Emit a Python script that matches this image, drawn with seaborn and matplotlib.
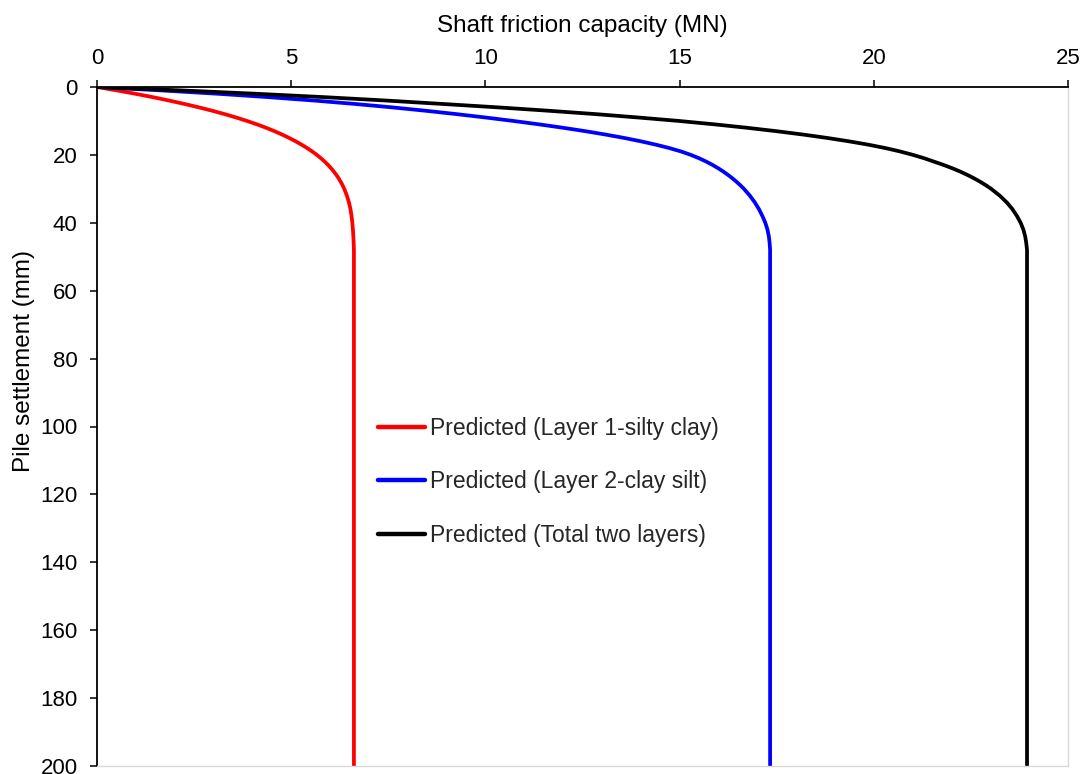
import matplotlib
matplotlib.use("Agg")
import matplotlib.pyplot as plt
import seaborn as sns
import pandas as pd

# Pile settlement (mm) at which shaft friction was evaluated
settlement = [0, 1, 2, 3, 4, 5, 6, 7, 8, 9, 10, 11, 12, 13, 14, 15, 16, 17,
              18, 19, 20, 21, 22, 23, 24, 25, 26, 27, 28, 29, 30,
              32, 34, 36, 38, 40, 42, 44, 46, 48, 200]

# Mobilised shaft friction (MN) for each layer and for the whole pile
layer1_silty_clay = [0, 0.51, 0.99, 1.44, 1.86, 2.255, 2.625, 2.97, 3.29,
                     3.587, 3.862, 4.117, 4.352, 4.567, 4.765, 4.947, 5.115,
                     5.27, 5.412, 5.542, 5.66, 5.767, 5.864, 5.952, 6.032,
                     6.104, 6.169, 6.227, 6.279, 6.325, 6.366,
                     6.434, 6.487, 6.526, 6.554, 6.574, 6.589, 6.60, 6.608,
                     6.615, 6.615]
layer2_clay_silt = [0, 1.65, 3.12, 4.43, 5.60, 6.65, 7.60, 8.465, 9.265,
                    10.015, 10.72, 11.38, 11.995, 12.565, 13.09, 13.57,
                    14.005, 14.395, 14.74, 15.04, 15.29, 15.504, 15.69,
                    15.855, 16.003, 16.137, 16.259, 16.371, 16.474, 16.569,
                    16.656,
                    16.809, 16.937, 17.044, 17.132, 17.207, 17.262, 17.298,
                    17.318, 17.33, 17.33]
total_two_layers = [0, 2.16, 4.11, 5.87, 7.46, 8.905, 10.325, 11.635, 12.855,
                    13.952, 14.982, 15.897, 16.727, 17.482, 18.175, 18.797,
                    19.36, 19.865, 20.302, 20.682, 21.01, 21.301, 21.554,
                    21.807, 22.035, 22.241, 22.428, 22.598, 22.753, 22.894,
                    23.022,
                    23.243, 23.424, 23.57, 23.686, 23.781, 23.851, 23.898,
                    23.926, 23.945, 23.945]

series_names = ["Predicted (Layer 1-silty clay)",
                "Predicted (Layer 2-clay silt)",
                "Predicted (Total two layers)"]
series_values = [layer1_silty_clay, layer2_clay_silt, total_two_layers]
series_colors = ["#ff0000", "#0000ff", "#000000"]

x_ticks = [0, 5, 10, 15, 20, 25]
y_ticks = [0, 20, 40, 60, 80, 100, 120, 140, 160, 180, 200]

sns.set_theme(style="white")
plt.rcParams["font.family"] = ["Liberation Sans", "DejaVu Sans"]

frames = []
for name, vals in zip(series_names, series_values):
    frames.append(pd.DataFrame({"settlement": settlement,
                                "capacity": vals,
                                "series": name}))
df = pd.concat(frames, ignore_index=True)

fig = plt.figure(figsize=(10.9, 7.74), dpi=100)
ax = fig.add_axes([97 / 1090, 1 - 766 / 774, (1068 - 97) / 1090, (766 - 87) / 774])

sns.lineplot(data=df, x="capacity", y="settlement", hue="series",
             hue_order=series_names, palette=series_colors, sort=False,
             estimator=None, linewidth=2.7, ax=ax)

ax.set_xlim(0, 25)
ax.set_ylim(200, 0)
ax.set_xticks(x_ticks)
ax.set_yticks(y_ticks)
ax.xaxis.tick_top()
ax.xaxis.set_label_position("top")

tick_fs = 16
legend_fs = 16.5
label_fs = 17.5
ax.tick_params(axis="x", which="both", top=True, bottom=False, direction="out",
               length=5, width=1.1, color="black", pad=8, labelsize=tick_fs,
               labelcolor="black")
ax.tick_params(axis="y", which="both", left=True, direction="out",
               length=5, width=1.1, color="black", pad=9, labelsize=tick_fs,
               labelcolor="black")

ax.set_xlabel("Shaft friction capacity (MN)", fontsize=label_fs, color="black")
ax.set_ylabel("Pile settlement (mm)", fontsize=label_fs, color="black")
ax.xaxis.set_label_coords(0.5, 1.0 + 55 / 679)
ax.yaxis.set_label_coords(-62 / 971, 0.596)

for side in ("top", "left"):
    ax.spines[side].set_color("black")
    ax.spines[side].set_linewidth(1.3)
for side in ("right", "bottom"):
    ax.spines[side].set_color("#d9d9d9")
    ax.spines[side].set_linewidth(1.0)

ax.grid(False)

leg = ax.legend(loc="upper left", bbox_to_anchor=((378 - 97) / 971, 1 - (417 - 87) / 679),
                frameon=False, fontsize=legend_fs, handlelength=2.05,
                handletextpad=0.22, labelspacing=1.33, borderpad=0,
                borderaxespad=0)
for line in leg.get_lines():
    line.set_linewidth(3.2)

fig.savefig("out.png", dpi=100, facecolor="white")
